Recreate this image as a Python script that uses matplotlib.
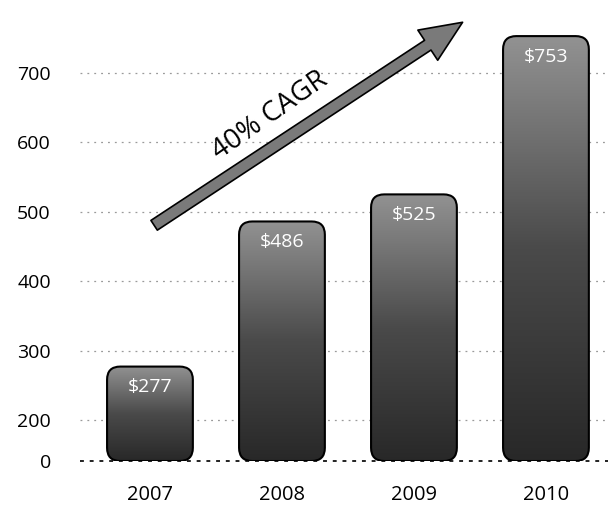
import numpy as np
import matplotlib
matplotlib.use("Agg")
import matplotlib.pyplot as plt
from matplotlib.patches import FancyBboxPatch
from matplotlib.colors import LinearSegmentedColormap

# --- Data ---
years = ["2007", "2008", "2009", "2010"]
revenue = [277, 486, 525, 753]
bar_labels = ["$277", "$486", "$525", "$753"]
tick_values = [141, 200, 300, 400, 500, 600, 700]
tick_labels = ["0", "200", "300", "400", "500", "600", "700"]
cagr_text = "40% CAGR"

BASE = 141  # truncated baseline of the original chart
plt.rcParams["font.family"] = ["Open Sans", "DejaVu Sans"]

fig = plt.figure(figsize=(6.08, 5.29), dpi=100)
ax = fig.add_axes([80 / 608, 68 / 529, 528 / 608, 461 / 529])
ax.set_xlim(-0.53, 3.47)
ax.set_ylim(BASE, 805)

# --- Grid ---
for v in tick_values[1:]:
    ax.axhline(v, color="#9a9a9a", lw=0.9, ls=(0, (1.5, 4)), zorder=0)
ax.axhline(BASE, color="#222222", lw=1.4, ls=(0, (2, 3)), zorder=0, clip_on=False)

# --- Bars with gradient + rounded corners ---
cmap = LinearSegmentedColormap.from_list("g", ["#282828", "#4a4a4a", "#929292"])
bw = 0.65
fig.canvas.draw()
px_x = ax.transData.transform((1, 0))[0] - ax.transData.transform((0, 0))[0]
px_y = ax.transData.transform((0, 1))[1] - ax.transData.transform((0, 0))[1]
aspect = px_x / px_y
grad = np.linspace(0, 1, 256).reshape(-1, 1)
for i, v in enumerate(revenue):
    x0 = i - bw / 2
    patch = FancyBboxPatch((x0, BASE), bw, v - BASE,
                           boxstyle="round,pad=0,rounding_size=0.1",
                           mutation_aspect=aspect,
                           fc="none", ec="black", lw=1.5, zorder=3)
    ax.add_patch(patch)
    im = ax.imshow(grad, cmap=cmap, origin="lower", aspect="auto",
                   extent=(x0, x0 + bw, BASE, v), zorder=2)
    im.set_clip_path(patch)
    ax.annotate(bar_labels[i], (i, v), xytext=(0, -15), textcoords="offset points",
                ha="center", va="center", color="white", fontsize=14, zorder=4)
ax.set_xlim(-0.53, 3.47)
ax.set_ylim(BASE, 805)

# --- CAGR arrow ---
ax.annotate("", xy=(0.729, 0.955), xytext=(0.136, 0.508), xycoords="axes fraction",
            arrowprops=dict(arrowstyle="simple,head_length=1.5,head_width=1.3,tail_width=0.42",
                            fc="#7a7a7a", ec="black", lw=1.2, mutation_scale=20),
            zorder=5)
ax.text(0.36, 0.748, cagr_text, transform=ax.transAxes, rotation=35,
        ha="center", va="center", fontsize=20, color="black")

# --- Axes styling ---
ax.set_yticks(tick_values)
ax.set_yticklabels(tick_labels, fontsize=14)
ax.set_xticks(range(len(years)))
ax.set_xticklabels(years, fontsize=14.5)
ax.tick_params(axis="y", length=0, pad=21)
ax.tick_params(axis="x", length=0, pad=17)
for s in ax.spines.values():
    s.set_visible(False)

fig.savefig("out.png", dpi=100)
